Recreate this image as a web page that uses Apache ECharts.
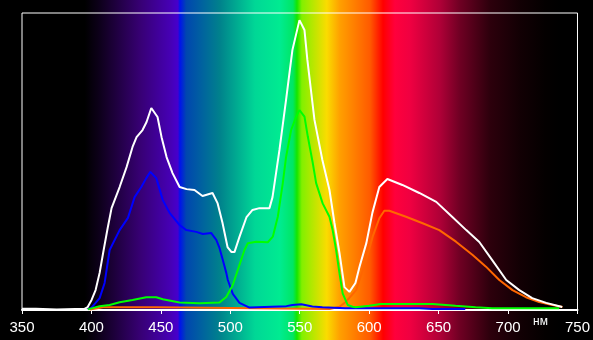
<!DOCTYPE html>
<html><head><meta charset="utf-8">
<script src="https://cdn.jsdelivr.net/npm/echarts@6/dist/echarts.min.js"></script>
<style>html,body{margin:0;padding:0;background:#000}#c{width:593px;height:340px}</style>
</head><body><div id="c"></div>
<script>
// wavelength (nm) and relative intensity (0..100 = plot height)
const whiteNm  = [350,360,375,395,397.3,400.1,403.0,405.9,408.8,411.7,414.5,420.3,425.3,429.6,432.5,436.8,439.7,443.1,447.6,450.5,454.1,458.4,463.5,468.5,474.2,480.0,487.2,490.8,494.4,498.0,500.9,503.0,506.6,511.7,516.0,521.0,528.2,530.4,535.4,540.4,544.7,549.8,553.4,555.5,560.6,566.3,571.4,575.0,578.6,582.2,585.8,590.1,593.0,598.0,602.3,607.3,613.1,623.9,636.1,648.3,659.9,669.9,679.3,688.6,698.7,708.1,717.4,727.5,739.0];
const whiteVal = [0.4,0.4,0.2,0.4,1.0,3.4,6.7,12.5,20.2,27.6,34.3,41.4,48.1,54.9,58.2,60.6,63.3,68.0,65.0,58.2,51.5,46.1,41.4,40.7,40.4,38.4,39.4,36.0,29.3,21.2,19.5,19.5,24.6,31.3,33.7,34.3,34.3,38.0,53.9,71.7,87.5,97.6,94.3,84.2,64.0,50.5,40.4,29.3,19.2,7.7,6.1,9.1,14.5,22.6,32.7,41.4,44.1,42.1,39.4,36.4,31.3,26.9,22.9,16.8,10.1,6.7,4.0,2.4,1.0];

const blueNm  = [397.3,399.9,403.0,405.9,409.5,413.1,420.3,426.3,431.1,435.9,439.5,442.4,446.7,451.4,456.3,463.5,468.3,475.5,480.2,486.3,489.9,492.2,494.6,497.1,498.2,501.8,506.6,513.8,540.4,544.7,551.2,559.1,566.3,582.9,636.1,645.5,669.2];
const blueVal = [0.3,0.7,2.4,4.0,9.1,20.2,26.9,31.0,38.0,41.4,44.4,46.5,44.4,37.0,32.7,28.6,26.9,26.3,25.6,25.9,23.6,20.9,16.8,12.5,10.1,5.4,2.4,0.8,1.3,1.7,1.9,1.2,0.9,0.6,0.6,0.3,0.3];

const greenNm  = [397.5,405.9,413.1,420.3,429.6,439.5,446.7,451.4,463.5,477.8,492.2,497.1,501.8,506.6,510.2,512.6,518.6,527.0,530.6,534.2,537.8,540.2,543.8,547.4,549.8,553.4,555.8,559.4,561.8,566.5,571.4,573.7,576.2,578.6,580.9,584.5,588.1,590.3,599.9,608.3,645.5,646.7,662.2,676.6,688.6,736.8];
const greenVal = [0.2,1.3,1.7,2.6,3.4,4.3,4.3,3.6,2.5,2.3,2.5,4.4,8.4,15.2,20.2,22.5,23.0,22.8,24.7,31.4,42.7,51.6,60.6,65.1,67.3,65.1,58.4,49.4,42.7,35.9,31.4,26.9,20.2,12.4,5.6,1.7,1.1,0.9,1.4,2.0,2.0,1.7,1.4,0.9,0.6,0.6];

const orangeNm  = [398.7,408.3,446.7,447.6,571.4,578.6,583.4,590.6,597.8,602.5,607.3,610.9,614.5,626.5,638.5,650.5,662.5,674.5,684.1,693.7,703.2,712.9,722.4,732.0,739.2];
const orangeVal = [0.2,0.9,0.9,0.3,0.3,1.1,2.8,6.7,16.8,24.7,30.9,33.4,33.4,31.4,29.2,26.9,23.0,18.5,14.6,10.1,6.7,4.3,2.7,1.7,1.0];

const xTicks = [350,400,450,500,550,600,650,700,750];
const unitLabel = 'нм';

const zip = (a,b) => a.map((v,i)=>[v,b[i]]);
const chart = echarts.init(document.getElementById('c'), null, {renderer:'canvas'});
const mk = (name,color,nm,val) => ({
  name, type:'line', data: zip(nm,val), showSymbol:false, smooth:false,
  lineStyle:{color, width:2}, itemStyle:{color}, animation:false
});
chart.setOption({
  animation:false,
  backgroundColor:{type:'linear',x:0,y:0,x2:1,y2:0,colorStops:[
    {offset:0,color:'#000000'},
    {offset:0.143,color:'#000000'},
    {offset:0.169,color:'rgb(14,0,28)'},
    {offset:0.186,color:'rgb(25,0,50)'},
    {offset:0.236,color:'rgb(55,0,115)'},
    {offset:0.287,color:'rgb(70,0,180)'},
    {offset:0.300,color:'rgb(70,0,205)'},
    {offset:0.3035,color:'rgb(0,20,235)'},
    {offset:0.314,color:'rgb(0,70,175)'},
    {offset:0.371,color:'rgb(0,130,140)'},
    {offset:0.430,color:'rgb(0,215,150)'},
    {offset:0.472,color:'rgb(0,235,145)'},
    {offset:0.494,color:'rgb(0,230,100)'},
    {offset:0.5008,color:'rgb(20,230,0)'},
    {offset:0.509,color:'rgb(130,240,0)'},
    {offset:0.551,color:'rgb(250,220,0)'},
    {offset:0.573,color:'rgb(255,160,0)'},
    {offset:0.624,color:'rgb(255,90,0)'},
    {offset:0.646,color:'rgb(255,0,0)'},
    {offset:0.666,color:'rgb(255,0,60)'},
    {offset:0.691,color:'rgb(240,0,65)'},
    {offset:0.742,color:'rgb(175,0,55)'},
    {offset:0.776,color:'rgb(110,0,35)'},
    {offset:0.826,color:'rgb(45,0,12)'},
    {offset:0.877,color:'rgb(18,0,4)'},
    {offset:0.919,color:'rgb(4,0,0)'},
    {offset:0.945,color:'#000000'},
    {offset:1,color:'#000000'}
  ]},
  grid:{left:22,right:15,top:13,bottom:30,show:true,borderColor:'#ffffff',borderWidth:1,backgroundColor:'transparent'},
  xAxis:{type:'value',min:350,max:750,interval:50,
    axisLine:{show:true,lineStyle:{color:'#ffffff',width:2}},
    axisTick:{show:true,length:4,lineStyle:{color:'#ffffff',width:1}},
    axisLabel:{color:'#ffffff',fontFamily:'Liberation Sans Narrow, Liberation Sans, Arial',fontSize:15,margin:10,
      formatter:v=>xTicks.includes(v)?String(v):''},
    splitLine:{show:false}},
  yAxis:{type:'value',min:0,max:100,show:false,splitLine:{show:false}},
  graphic:[{type:'text',left:533,top:316,style:{text:unitLabel,fill:'#ffffff',font:'12px "Liberation Sans", Arial'}}],
  series:[
    mk('orange','#ff6600',orangeNm,orangeVal),
    mk('blue','#0000ff',blueNm,blueVal),
    mk('green','#00ff00',greenNm,greenVal),
    mk('white','#ffffff',whiteNm,whiteVal)
  ]
});
</script></body></html>
